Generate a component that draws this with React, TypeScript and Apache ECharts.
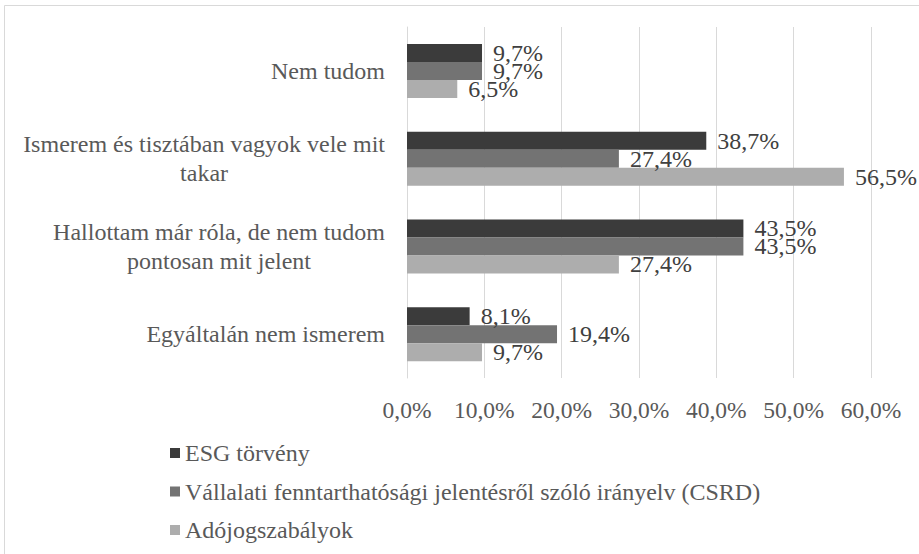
import React, { useEffect, useRef } from "react";
import * as echarts from "echarts";

const categories = [
  "Nem tudom",
  "Ismerem és tisztában vagyok vele mit\ntakar",
  "Hallottam már róla, de nem tudom\npontosan mit jelent",
  "Egyáltalán nem ismerem",
];
const seriesNames = [
  "ESG törvény",
  "Vállalati fenntarthatósági jelentésről szóló irányelv (CSRD)",
  "Adójogszabályok",
];
const esgValues = [9.7, 38.7, 43.5, 8.1];
const csrdValues = [9.7, 27.4, 43.5, 19.4];
const adoValues = [6.5, 56.5, 27.4, 9.7];
const xTicks = { min: 0, max: 60, interval: 10 };

const colors = ["#3b3b3b", "#737373", "#adadad"];
const FONT = "Liberation Serif";

const fmt = (v: number) => v.toFixed(1).replace(".", ",") + "%";

export default function App() {
  const ref = useRef<HTMLDivElement>(null);
  useEffect(() => {
    if (!ref.current) return;
    const chart = echarts.init(ref.current, null, { renderer: "svg" });
    const values = [esgValues, csrdValues, adoValues];
    chart.setOption({
      animation: false,
      backgroundColor: "#ffffff",
      textStyle: { fontFamily: FONT },
      graphic: [
        {
          type: "rect",
          shape: { x: 4.5, y: 5.5, width: 1000, height: 1000 },
          style: { fill: "none", stroke: "#d9d9d9", lineWidth: 1 },
          silent: true,
        },
      ],
      grid: { left: 407, right: 48, top: 27, bottom: 176, containLabel: false },
      xAxis: {
        type: "value",
        min: xTicks.min,
        max: xTicks.max,
        interval: xTicks.interval,
        axisLine: { show: false },
        axisTick: { show: false },
        splitLine: { show: true, lineStyle: { color: "#d9d9d9", width: 1 } },
        axisLabel: {
          formatter: (v: number) => fmt(v),
          color: "#595959",
          fontFamily: FONT,
          fontSize: 23.5,
          margin: 20,
        },
      },
      yAxis: {
        type: "category",
        inverse: true,
        data: categories,
        axisLine: { show: true, lineStyle: { color: "#d9d9d9" } },
        axisTick: { show: false },
        axisLabel: {
          margin: 22,
          align: "right",
          color: "#595959",
          fontFamily: FONT,
          fontSize: 24,
          lineHeight: 29,
          formatter: (v: string) =>
            v
              .split("\n")
              .map((l) => "{c|" + l + "}")
              .join("\n"),
          rich: {
            c: {
              align: "center",
              color: "#595959",
              fontFamily: FONT,
              fontSize: 24,
              lineHeight: 29,
            },
          },
        },
      },
      legend: {
        orient: "vertical",
        left: 170,
        top: 441,
        padding: 0,
        itemWidth: 10,
        itemHeight: 10,
        itemGap: 14.5,
        icon: "rect",
        data: seriesNames,
        textStyle: {
          color: "#595959",
          fontFamily: FONT,
          fontSize: 24,
          lineHeight: 24,
        },
      },
      series: seriesNames.map((name, i) => ({
        name,
        type: "bar",
        data: values[i],
        barWidth: 18,
        barGap: "0%",
        itemStyle: { color: colors[i] },
        label: {
          show: true,
          position: "right",
          distance: 11,
          formatter: (p: any) => fmt(p.value),
          color: "#404040",
          fontFamily: FONT,
          fontSize: 24,
        },
      })),
    });
    return () => chart.dispose();
  }, []);
  return (
    <div
      ref={ref}
      style={{ position: "fixed", left: 0, top: 0, width: 919, height: 554 }}
    />
  );
}
